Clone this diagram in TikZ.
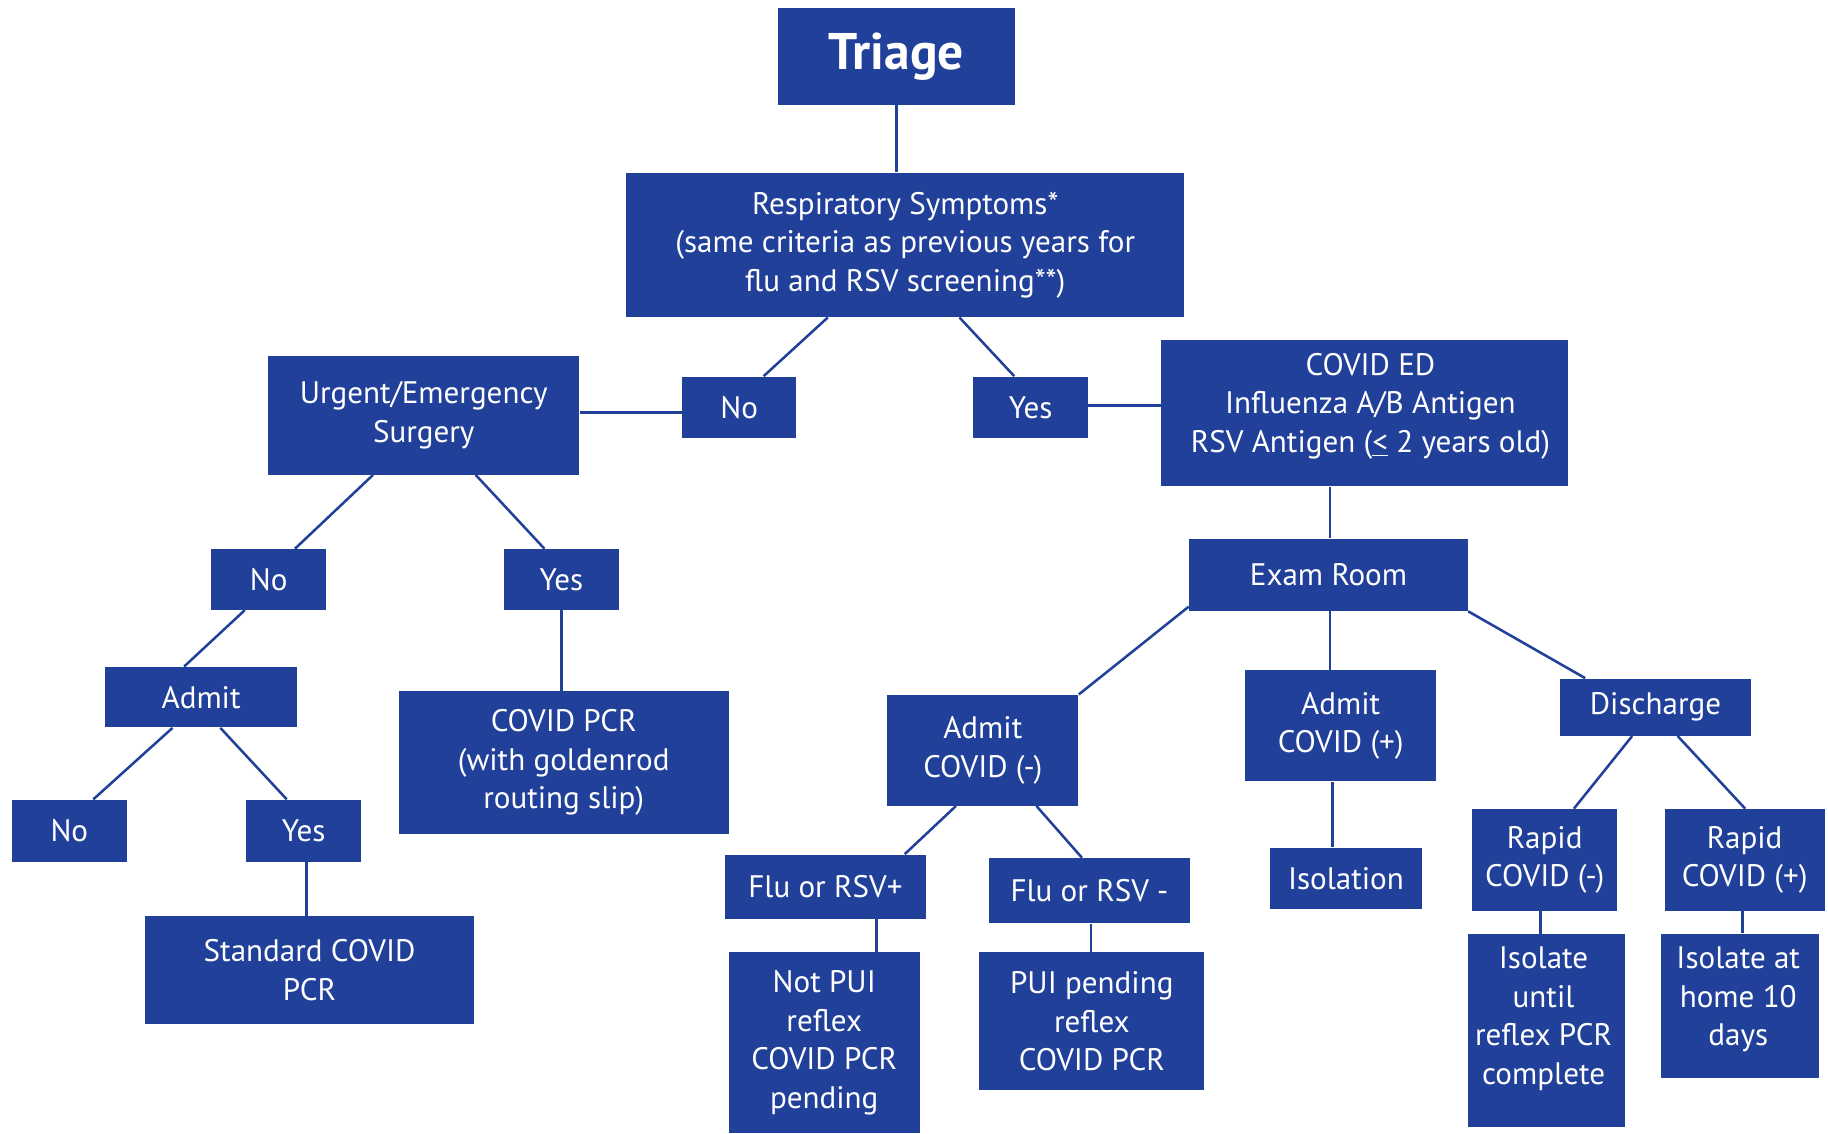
\documentclass[tikz,border=0pt]{standalone}
\usepackage{fontspec}
\setmainfont{PT Sans}
\usetikzlibrary{calc}
\definecolor{nblue}{HTML}{21409A}
\begin{document}
\begin{tikzpicture}[x=0.6pt,y=-0.6pt,
  bx/.style={fill=nblue,draw=none,text=white,inner sep=0pt,align=center,
    font=\fontsize{16}{19.8}\selectfont},
  ln/.style={draw=nblue,line width=1.3pt}]
\useasboundingbox (0,0) rectangle (1568,972.6);
% nodes
\node[bx,minimum width=122.4pt,minimum height=49.8pt,font=\fontsize{26.5}{30}\selectfont\bfseries] (triage) at (769,48.5) {Triage};
\node[bx,minimum width=287.4pt,minimum height=74.4pt] (resp) at (776.5,210) {Respiratory Symptoms*\\(same criteria as previous years for\\flu and RSV screening**)};
\node[bx,minimum width=160.2pt,minimum height=61.2pt] (urgent) at (363.5,356) {Urgent/Emergency\\Surgery};
\node[bx,minimum width=58.8pt,minimum height=31.8pt] (no1) at (634,349.5) {No};
\node[bx,minimum width=58.8pt,minimum height=31.8pt] (yes1) at (884,349.5) {Yes};
\node[bx,minimum width=209.4pt,minimum height=75pt] (coved) at (1170.5,354.5) {};
\node[bx] at ($(coved.center)+(5,-6)$) {COVID ED\\Influenza A/B Antigen\\RSV Antigen (\underline{<} 2 years old)};
\node[bx,minimum width=59.4pt,minimum height=31.2pt] (no2) at (230.5,497) {No};
\node[bx,minimum width=59.4pt,minimum height=31.2pt] (yes2) at (481.5,497) {Yes};
\node[bx,minimum width=99pt,minimum height=31.2pt] (admit) at (172.5,598) {Admit};
\node[bx,minimum width=59.4pt,minimum height=31.8pt] (no3) at (59.5,712.5) {No};
\node[bx,minimum width=59.4pt,minimum height=31.8pt] (yes3) at (260.5,712.5) {Yes};
\node[bx,minimum width=169.8pt,minimum height=55.2pt] (std) at (265.5,832) {Standard COVID\\PCR};
\node[bx,minimum width=169.8pt,minimum height=73.2pt] (pcr) at (483.5,654) {COVID PCR\\(with goldenrod\\routing slip)};
\node[bx,minimum width=143.4pt,minimum height=37.2pt] (exam) at (1139.5,493) {Exam Room};
\node[bx,minimum width=98.4pt,minimum height=57pt] (admneg) at (843,643.5) {Admit\\COVID (-)};
\node[bx,minimum width=98.4pt,minimum height=57pt] (admpos) at (1150,622.5) {Admit\\COVID (+)};
\node[bx,minimum width=98.4pt,minimum height=29.4pt] (disch) at (1420,606.5) {Discharge};
\node[bx,minimum width=78.6pt,minimum height=31.8pt] (isol) at (1154.5,753.5) {Isolation};
\node[bx,minimum width=103.2pt,minimum height=33pt] (flupos) at (708,760.5) {Flu or RSV+};
\node[bx,minimum width=103.8pt,minimum height=33.6pt] (fluneg) at (934.5,764) {Flu or RSV -};
\node[bx,minimum width=98.4pt,minimum height=93pt] (notpui) at (707,894.5) {Not PUI\\reflex\\COVID PCR\\pending};
\node[bx,minimum width=115.8pt,minimum height=70.8pt] (pui) at (936.5,876) {PUI pending\\reflex\\COVID PCR};
\node[bx,minimum width=74.4pt,minimum height=52.2pt] (rneg) at (1325,737.5) {Rapid\\COVID (-)};
\node[bx,minimum width=82.2pt,minimum height=52.2pt] (rpos) at (1496.5,737.5) {Rapid\\COVID (+)};
\node[bx,minimum width=81pt,minimum height=99pt,anchor=north] (isountil) at (1326.5,801) {};
\node[bx,anchor=north] at (1324,812) {Isolate\\until\\reflex PCR\\complete};
\node[bx,minimum width=81pt,minimum height=74.4pt] (isohome) at (1492.5,863) {};
\node[bx,anchor=north] at (1491,812) {Isolate at\\home 10\\days};
% connectors
\draw[ln] (triage.south) -- (triage.south |- resp.north);
\draw[ln] ($(resp.south)+(-66.5,0)$) -- ($(no1.north)+(21,0)$);
\draw[ln] ($(resp.south)+(46.5,0)$) -- ($(yes1.north)+(-14,0)$);
\draw[ln] ($(urgent.east)+(0,-2)$) -- ($(urgent.east -| no1.west)+(0,-2)$);
\draw[ln] ($(yes1.east)+(0,-1.5)$) -- ($(yes1.east -| coved.west)+(0,-1.5)$);
\draw[ln] ($(urgent.south)+(-43.5,0)$) -- ($(no2.north)+(22.5,0)$);
\draw[ln] ($(urgent.south)+(44.5,0)$) -- ($(yes2.north)+(-14.5,0)$);
\draw[ln] ($(no2.south)+(-20.5,0)$) -- ($(admit.north)+(-14.5,0)$);
\draw[ln] ($(admit.south)+(-24.5,0)$) -- ($(no3.north)+(20.5,0)$);
\draw[ln] ($(admit.south)+(16.5,0)$) -- ($(yes3.north)+(-14.5,0)$);
\draw[ln] ($(yes3.south)+(2.5,0)$) -- ($(yes3.south |- std.north)+(2.5,0)$);
\draw[ln] (yes2.south) -- (yes2.south |- pcr.north);
\draw[ln] ($(exam.north |- coved.south)+(1.5,0)$) -- ($(exam.north)+(1.5,0)$);
\draw[ln] ($(exam.south west)+(0,-4)$) -- (admneg.north east);
\draw[ln] ($(exam.south)+(1.5,0)$) -- ($(exam.south |- admpos.north)+(1.5,0)$);
\draw[ln] (exam.south east) -- ($(disch.north west)+(22,0)$);
\draw[ln] ($(admneg.south)+(-23,0)$) -- ($(flupos.north)+(68,0)$);
\draw[ln] ($(admneg.south)+(46,0)$) -- ($(fluneg.north)+(-6.5,0)$);
\draw[ln] ($(flupos.south)+(44,0)$) -- ($(flupos.south |- notpui.north)+(44,0)$);
\draw[ln] ($(fluneg.south)+(1.5,0)$) -- ($(fluneg.south |- pui.north)+(1.5,0)$);
\draw[ln] ($(admpos.south)+(-7,0)$) -- ($(admpos.south |- isol.north)+(-7,0)$);
\draw[ln] ($(disch.south)+(-20,0)$) -- ($(rneg.north)+(25,0)$);
\draw[ln] ($(disch.south)+(19,0)$) -- ($(rpos.north)+(0.5,0)$);
\draw[ln] ($(rneg.south)+(-3.6,0)$) -- ($(rneg.south |- isountil.north)+(-3.6,0)$);
\draw[ln] ($(rpos.south)+(-1.8,0)$) -- ($(rpos.south |- isohome.north)+(-1.8,0)$);
\end{tikzpicture}
\end{document}
